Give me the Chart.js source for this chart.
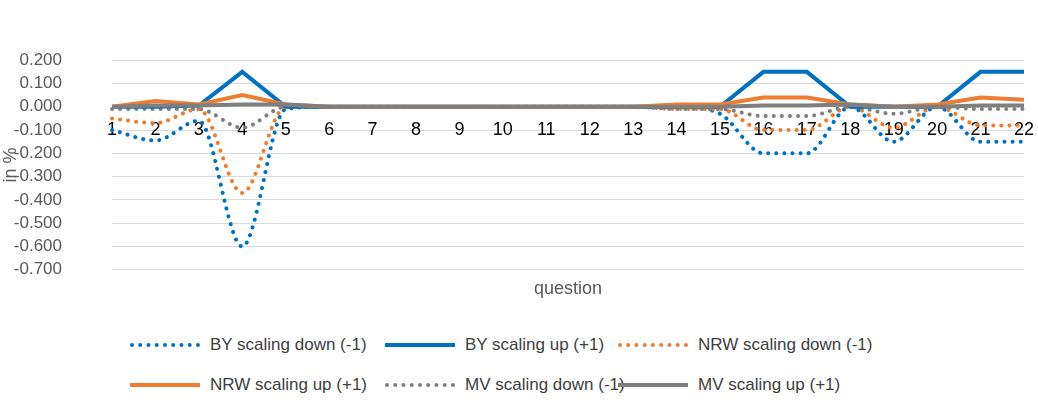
<!DOCTYPE html>
<html><head><meta charset="utf-8">
<script src="https://cdn.jsdelivr.net/npm/chart.js@4"></script>
<style>
body{margin:0;background:#fff;font-family:"Liberation Sans",sans-serif;}
#wrap{position:relative;width:1038px;height:330px;}
.leg{position:absolute;font-size:17px;color:#404040;display:flex;align-items:center;}
.leg span.l{display:inline-block;width:70px;margin-right:10px;}
</style></head><body>
<div id="wrap"><canvas id="c"></canvas></div>
<div class="leg" style="left:130px;top:335px"><span class="l" style="border-top:4px dotted #0070C0"></span>BY scaling down (-1)</div>
<div class="leg" style="left:385px;top:335px"><span class="l" style="border-top:4px solid #0070C0"></span>BY scaling up (+1)</div>
<div class="leg" style="left:618px;top:335px"><span class="l" style="border-top:4px dotted #ED7D31"></span>NRW scaling down (-1)</div>
<div class="leg" style="left:130px;top:375px"><span class="l" style="border-top:4px solid #ED7D31"></span>NRW scaling up (+1)</div>
<div class="leg" style="left:385px;top:375px"><span class="l" style="border-top:4px dotted #7F7F7F"></span>MV scaling down (-1)</div>
<div class="leg" style="left:618px;top:375px"><span class="l" style="border-top:4px solid #7F7F7F"></span>MV scaling up (+1)</div>
<script>
const categories=["1","2","3","4","5","6","7","8","9","10","11","12","13","14","15","16","17","18","19","20","21","22"];
const byDown=[-0.1,-0.145,-0.06,-0.6,-0.01,0,0,0,0,0,0,0,0,0,-0.03,-0.2,-0.2,0,-0.15,0,-0.15,-0.15];
const byUp=[0,0,0.005,0.15,0,0,0,0,0,0,0,0,0,0,0,0.15,0.15,0,0,0,0.15,0.15];
const nrwDown=[-0.05,-0.07,-0.01,-0.37,0,0,0,0,0,0,0,0,0,-0.01,-0.01,-0.1,-0.1,0,-0.09,0,-0.08,-0.08];
const nrwUp=[0,0.025,0.01,0.05,0.01,0,0,0,0,0,0,0,0,0.01,0.01,0.04,0.04,0.01,0,0.01,0.04,0.03];
const mvDown=[-0.01,-0.01,-0.01,-0.09,0,0,0,0,0,0,0,0,0,-0.01,-0.01,-0.04,-0.04,0,-0.03,0,-0.01,-0.01];
const mvUp=[0,0.005,0.005,0.01,0.01,0,0,0,0,0,0,0,0,0,0,0.005,0.005,0.01,0,0,0.005,0.005];
const dot=(label,data,color)=>({label,data,borderColor:color,borderWidth:4,borderDash:[0.1,8],borderCapStyle:'round',cubicInterpolationMode:'monotone',pointRadius:0,fill:false});
const sol=(label,data,color)=>({label,data,borderColor:color,borderWidth:4,pointRadius:0,fill:false,tension:0});
new Chart(document.getElementById('c'),{type:'line',
data:{labels:categories,datasets:[
sol('MV scaling up (+1)',mvUp,'#7F7F7F'),
sol('NRW scaling up (+1)',nrwUp,'#ED7D31'),
sol('BY scaling up (+1)',byUp,'#0070C0'),
dot('MV scaling down (-1)',mvDown,'#7F7F7F'),
dot('NRW scaling down (-1)',nrwDown,'#ED7D31'),
dot('BY scaling down (-1)',byDown,'#0070C0')]},
options:{responsive:true,maintainAspectRatio:false,animation:false,
layout:{padding:{top:7,right:8,left:0,bottom:46}},
plugins:{legend:{display:false},tooltip:{enabled:false}},
scales:{
x:{position:{y:0},offset:false,grid:{display:false},border:{display:false},
 ticks:{color:'#000',font:{size:18,family:'"Liberation Sans"'},padding:4,maxRotation:0},
 afterFit:s=>{s.height=0}},
y:{min:-0.7,max:0.2,grid:{color:'#d9d9d9',drawTicks:false},border:{display:false},
 ticks:{stepSize:0.1,color:'#595959',font:{size:17,family:'"Liberation Sans"'},padding:50,callback:v=>v.toFixed(3)},
 afterFit:s=>{s.width=112},
 title:{display:true,text:'in %',color:'#595959',font:{size:18,family:'"Liberation Sans"'},padding:0}}
}},
plugins:[{id:'xt',afterDraw(ch){const c=ch.ctx,a=ch.chartArea;c.save();c.fillStyle='#595959';c.font='18px "Liberation Sans",sans-serif';c.textAlign='center';c.fillText('question',(a.left+a.right)/2,a.bottom+24);c.restore();}}]
});
</script></body></html>
